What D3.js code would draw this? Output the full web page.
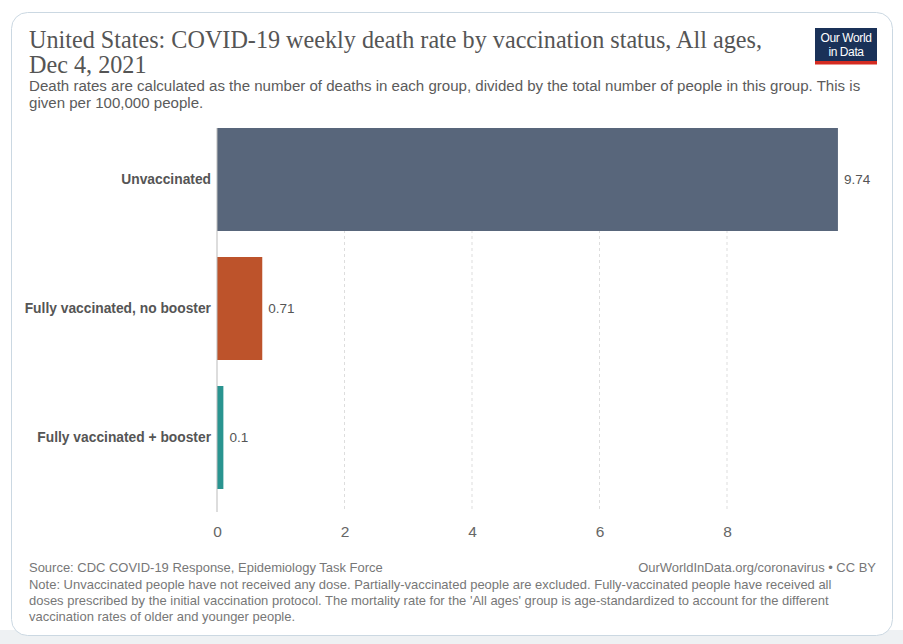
<!DOCTYPE html>
<html><head><meta charset="utf-8">
<script src="https://cdn.jsdelivr.net/npm/d3@7"></script>
<style>body{margin:0;background:#fff;}svg{display:block;}</style>
</head><body>
<svg id="c" width="903" height="644"></svg>
<script>
const categories = ["Unvaccinated", "Fully vaccinated, no booster", "Fully vaccinated + booster"];
const values = [9.74, 0.71, 0.1];
const valueLabels = ["9.74", "0.71", "0.1"];
const colors = ["#58667b", "#bd532b", "#2a9490"];
const tickValues = [0, 2, 4, 6, 8];
const titleLines = ["United States: COVID-19 weekly death rate by vaccination status, All ages,", "Dec 4, 2021"];
const subtitleLines = ["Death rates are calculated as the number of deaths in each group, divided by the total number of people in this group. This is", "given per 100,000 people."];
const sourceText = "Source: CDC COVID-19 Response, Epidemiology Task Force";
const urlText = "OurWorldInData.org/coronavirus • CC BY";
const noteLines = ["Note: Unvaccinated people have not received any dose. Partially-vaccinated people are excluded. Fully-vaccinated people have received all", "doses prescribed by the initial vaccination protocol. The mortality rate for the 'All ages' group is age-standardized to account for the different", "vaccination rates of older and younger people."];

const svg = d3.select("#c");
const sans = "'Liberation Sans', Arial, Helvetica, sans-serif";
const serif = "'Liberation Serif', 'DejaVu Serif', serif";

// page bottom strip
svg.append("rect").attr("x",0).attr("y",630).attr("width",903).attr("height",14).attr("fill","#eef1f3");
// card
svg.append("rect").attr("x",11.5).attr("y",12.5).attr("width",881).attr("height",623).attr("rx",16)
  .attr("fill","#fff").attr("stroke","#cbd8e2").attr("stroke-width",1);

function fit(sel, w){ const n=sel.node(); const l=n.getComputedTextLength(); if(l>0){ const fs=parseFloat(sel.attr("font-size")); sel.attr("font-size", fs*w/l);} return sel; }

// title (condensed to match)
const t1 = svg.append("text").attr("x",29).attr("y",48).attr("font-family",serif)
  .attr("font-size",24.5).attr("fill","#555").text(titleLines[0]);
const ratio = 733 / t1.node().getComputedTextLength();
t1.attr("textLength",733).attr("lengthAdjust","spacingAndGlyphs");
const t2 = svg.append("text").attr("x",29).attr("y",73).attr("font-family",serif)
  .attr("font-size",24.5).attr("fill","#555").text(titleLines[1]);
t2.attr("textLength", t2.node().getComputedTextLength()*ratio).attr("lengthAdjust","spacingAndGlyphs");

// subtitle
const s1 = svg.append("text").attr("x",29).attr("y",91).attr("font-family",sans).attr("font-size",13.5).attr("fill","#5b5b5b").text(subtitleLines[0]);
fit(s1, 832);
const sfs = +s1.attr("font-size");
svg.append("text").attr("x",29).attr("y",108).attr("font-family",sans).attr("font-size",sfs).attr("fill","#5b5b5b").text(subtitleLines[1]);

// logo
const logo = svg.append("g");
logo.append("rect").attr("x",815).attr("y",28).attr("width",62).attr("height",36).attr("fill","#1a3158");
logo.append("rect").attr("x",815).attr("y",61).attr("width",62).attr("height",3.5).attr("fill","#d42b21");
logo.append("text").attr("x",846).attr("y",42).attr("text-anchor","middle").attr("font-family",sans).attr("font-size",12).attr("fill","#fff").attr("letter-spacing",-0.4).text("Our World");
logo.append("text").attr("x",846).attr("y",56).attr("text-anchor","middle").attr("font-family",sans).attr("font-size",12).attr("fill","#fff").attr("letter-spacing",-0.4).text("in Data");

// scales
const x = d3.scaleLinear().domain([0, 8]).range([217, 727]);
const y = d3.scaleBand().domain(categories).range([128, 489]).paddingInner(26/129).paddingOuter(0);

// grid
svg.append("g").selectAll("line").data(tickValues.filter(d=>d>0)).join("line")
  .attr("x1",d=>x(d)).attr("x2",d=>x(d)).attr("y1",128).attr("y2",512)
  .attr("stroke","#ddd").attr("stroke-dasharray","3,3");

// x axis
const xAxis = d3.axisBottom(x).tickValues(tickValues).tickSize(0).tickPadding(0).tickFormat(d3.format("d"));
const ga = svg.append("g").attr("transform","translate(0,526)").call(xAxis);
ga.select(".domain").remove();
ga.selectAll("text").attr("font-family",sans).attr("font-size",15.5).attr("fill","#666").attr("dy","0.71em");

// bars
svg.append("g").selectAll("rect").data(categories).join("rect")
  .attr("x",x(0)).attr("y",d=>y(d)).attr("height",y.bandwidth())
  .attr("width",(d,i)=>x(values[i])-x(0)).attr("fill",(d,i)=>colors[i]);

// baseline
svg.append("line").attr("x1",x(0)).attr("x2",x(0)).attr("y1",128).attr("y2",512).attr("stroke","#bbb").attr("stroke-width",1);

// category labels
svg.append("g").selectAll("text").data(categories).join("text")
  .attr("x",211).attr("y",d=>y(d)+y.bandwidth()/2).attr("dy","0.35em").attr("text-anchor","end")
  .attr("font-family",sans).attr("font-weight","bold").attr("font-size",13.8).attr("fill","#555").text(d=>d);

// value labels
svg.append("g").selectAll("text").data(categories).join("text")
  .attr("x",(d,i)=>x(values[i])+6).attr("y",d=>y(d)+y.bandwidth()/2).attr("dy","0.35em")
  .attr("font-family",sans).attr("font-size",13.5).attr("fill","#555").text((d,i)=>valueLabels[i]);

// footer
const src = svg.append("text").attr("x",29).attr("y",572).attr("font-family",sans).attr("font-size",12.5).attr("fill","#777").text(sourceText);
fit(src, 354);
const ffs = +src.attr("font-size");
svg.append("text").attr("x",876).attr("y",572).attr("text-anchor","end").attr("font-family",sans).attr("font-size",ffs).attr("fill","#777").text(urlText);
svg.append("g").selectAll("text").data(noteLines).join("text")
  .attr("x",29).attr("y",(d,i)=>589+i*16).attr("font-family",sans).attr("font-size",ffs).attr("fill","#777").text(d=>d);
</script>
</body></html>
